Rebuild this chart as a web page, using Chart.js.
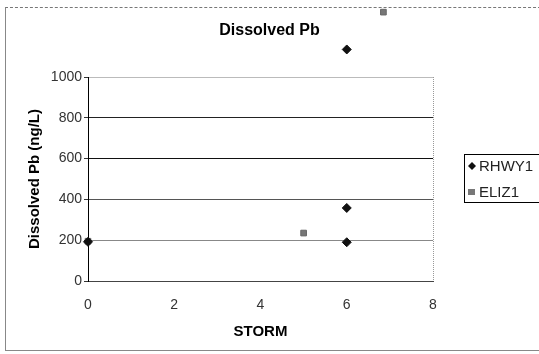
<!DOCTYPE html>
<html>
<head>
<meta charset="utf-8">
<script src="https://cdn.jsdelivr.net/npm/chart.js@4.4.1/dist/chart.umd.min.js"></script>
<style>
  html, body { margin: 0; padding: 0; background: #fff; }
  #wrap { position: relative; width: 539px; height: 354px; }
  #frame {
    position: absolute; left: 5px; top: 7px; width: 540px; height: 342px;
    border-left: 1px solid #888; border-bottom: 1px solid #888; border-top: 1px dashed #777;
  }
  canvas { position: absolute; left: 0; top: 0; }
</style>
</head>
<body>
<div id="wrap">
  <div id="frame"></div>
  <canvas id="chart" width="539" height="354"></canvas>
</div>
<script>
// storm number vs dissolved Pb (ng/L)
const rhwyStorm = [0, 6, 6, 6];
const rhwyPb = [192, 1135, 358, 190];
const elizStorm = [0, 5, 6.85];
const elizPb = [195, 235, 1318];
const xTicks = [0, 2, 4, 6, 8];
const yTicks = [0, 200, 400, 600, 800, 1000];

const FONT = "Arial, 'Liberation Sans'";

function toPoints(xs, ys) {
  return xs.map((x, i) => ({ x: x, y: ys[i] }));
}

// title centred on the whole canvas, like Excel does
const pageTitle = {
  id: "pageTitle",
  afterDraw(chart) {
    const ctx = chart.ctx;
    ctx.save();
    ctx.font = "bold 16px " + FONT;
    ctx.fillStyle = "#000";
    ctx.textAlign = "center";
    ctx.textBaseline = "middle";
    ctx.fillText("Dissolved Pb", chart.width / 2, 31);
    ctx.restore();
  }
};

// points above the y max still get drawn (Excel leaves them sticking out)
const overflowPoints = {
  id: "overflowPoints",
  afterDatasetsDraw(chart) {
    const a = chart.chartArea;
    const whole = { left: 0, top: 0, right: chart.width, bottom: chart.height };
    chart.data.datasets.forEach((ds, i) => {
      chart.getDatasetMeta(i).data.forEach(pt => {
        if (pt.y < a.top) pt.draw(chart.ctx, whole);
      });
    });
  }
};

// hand-drawn legend with a box
const boxLegend = {
  id: "boxLegend",
  afterDraw(chart) {
    const ctx = chart.ctx;
    const left = 464, top = 154;
    ctx.save();
    ctx.strokeStyle = "#000";
    ctx.lineWidth = 1;
    ctx.strokeRect(left + 0.5, top + 0.5, 100, 48);
    ctx.font = "15px " + FONT;
    ctx.textBaseline = "middle";
    chart.data.datasets.forEach((ds, i) => {
      const y = top + 12 + i * 26;
      ctx.fillStyle = ds.backgroundColor;
      ctx.beginPath();
      if (ds.pointStyle === "rectRot") {
        ctx.moveTo(left + 8, y - 4); ctx.lineTo(left + 12, y);
        ctx.lineTo(left + 8, y + 4); ctx.lineTo(left + 4, y);
      } else {
        ctx.rect(left + 4, y - 3, 7, 6);
      }
      ctx.fill();
      ctx.fillStyle = "#222";
      ctx.fillText(ds.label, left + 15, y + 1);
    });
    ctx.restore();
  }
};

const rightEdge = {
  id: "rightEdge",
  beforeDatasetsDraw(chart) {
    const a = chart.chartArea, ctx = chart.ctx;
    ctx.save();
    ctx.strokeStyle = "#999";
    ctx.setLineDash([1, 1]);
    ctx.beginPath();
    ctx.moveTo(Math.round(a.right) + 0.5, a.top);
    ctx.lineTo(Math.round(a.right) + 0.5, a.bottom);
    ctx.stroke();
    ctx.restore();
  }
};

const gridColors = { 0: "#444", 200: "#888", 400: "#555", 600: "#111", 800: "#222", 1000: "#bbb" };

new Chart(document.getElementById("chart"), {
  type: "scatter",
  data: {
    datasets: [
      {
        label: "RHWY1",
        data: toPoints(rhwyStorm, rhwyPb),
        pointStyle: "rectRot",
        pointRadius: 4.5,
        backgroundColor: "#111",
        borderColor: "#111",
        clip: false
      },
      {
        label: "ELIZ1",
        data: toPoints(elizStorm, elizPb),
        pointStyle: "rect",
        pointRadius: 4,
        backgroundColor: "#777",
        borderColor: "#666",
        clip: false
      }
    ]
  },
  options: {
    responsive: false,
    animation: false,
    layout: { padding: { left: 22, right: 106, top: 77, bottom: 9 } },
    plugins: {
      legend: { display: false },
      tooltip: { enabled: false },
      title: { display: false }
    },
    scales: {
      x: {
        type: "linear",
        min: 0, max: 8,
        afterBuildTicks: s => { s.ticks = xTicks.map(v => ({ value: v })); },
        afterFit: s => { s.height = 64; },
        grid: { display: false, drawTicks: true, tickLength: 4, tickColor: "#333" },
        border: { color: "#444", width: 1 },
        ticks: { color: "#333", font: { family: FONT, size: 14 }, padding: 12 },
        title: {
          display: true, text: "STORM", color: "#000",
          font: { family: FONT, size: 15, weight: "bold" },
          padding: { top: 0 }
        }
      },
      y: {
        min: 0, max: 1000,
        afterBuildTicks: s => { s.ticks = yTicks.map(v => ({ value: v })); },
        afterFit: s => { s.width = 66; },
        grid: {
          color: c => gridColors[c.tick.value] || "#888",
          lineWidth: 1,
          tickLength: 4,
          tickColor: "#333"
        },
        border: { color: "#000", width: 1 },
        ticks: {
          color: "#333", font: { family: FONT, size: 14 }, padding: 2,
          callback: v => String(v)
        },
        title: {
          display: true, text: "Dissolved Pb (ng/L)", color: "#000",
          font: { family: FONT, size: 15, weight: "bold" },
          padding: { bottom: 2 }
        }
      }
    }
  },
  plugins: [pageTitle, overflowPoints, boxLegend, rightEdge]
});
</script>
</body>
</html>
